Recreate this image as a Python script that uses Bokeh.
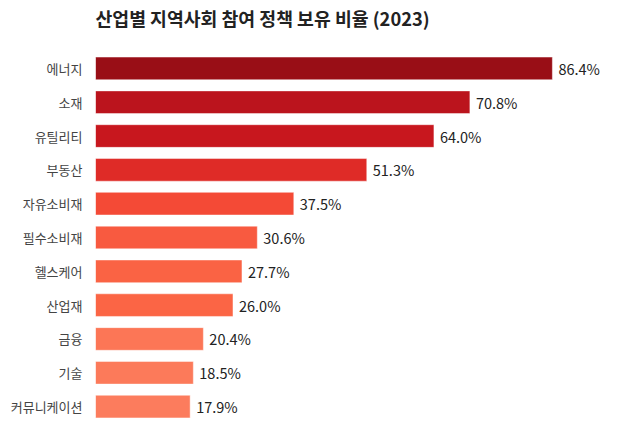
from bokeh.plotting import figure
from bokeh.models import ColumnDataSource, LabelSet, Title
from bokeh.core.properties import value
from bokeh.embed import file_html
from bokeh.resources import INLINE

title_text = "산업별 지역사회 참여 정책 보유 비율 (2023)"
categories = ["에너지", "소재", "유틸리티", "부동산", "자유소비재", "필수소비재",
              "헬스케어", "산업재", "금융", "기술", "커뮤니케이션"]
values = [86.4, 70.8, 64.0, 51.3, 37.5, 30.6, 27.7, 26.0, 20.4, 18.5, 17.9]
colors = ["#990E16", "#BB141D", "#C8171E", "#DF2B27", "#F44A36", "#F85A40",
          "#FA6344", "#FB6545", "#FC7656", "#FC7A5A", "#FC7C5D"]
labels = [f"{v:.1f}%" for v in values]

FONT = "Noto Sans CJK KR"

src = ColumnDataSource(dict(cat=categories, val=values, color=colors, label=labels))

p = figure(y_range=list(reversed(categories)), x_range=(0, 95.5),
           frame_width=505, frame_height=372, output_backend="svg",
           toolbar_location=None, title=None,
           min_border_left=95, min_border_right=12, min_border_top=0,
           min_border_bottom=8)

p.hbar(y="cat", right="val", left=0, height=0.67, fill_color="color",
       line_color="white", line_alpha=0.45, line_width=1, source=src)

p.add_layout(LabelSet(x="val", y="cat", text="label", x_offset=6, source=src,
                      text_baseline="middle", text_font=value(FONT),
                      text_font_size="14.5px", text_color="#222222"))

# spacer between the plot area and the title (nearest the frame)
p.add_layout(Title(text=" ", text_font_size="1px", standoff=15), "above")
# chart title (outermost)
p.add_layout(Title(text=title_text, text_font=FONT, text_font_size="18.3px",
                   text_font_style="bold", text_color="#222222",
                   align="left", standoff=5), "above")

p.xaxis.visible = False
p.xgrid.grid_line_color = None
p.ygrid.grid_line_color = None
p.outline_line_color = None
p.yaxis.axis_line_color = None
p.yaxis.major_tick_line_color = None
p.yaxis.minor_tick_line_color = None
p.yaxis.major_label_standoff = 7
p.yaxis.major_label_text_font = FONT
p.yaxis.major_label_text_font_size = "13px"
p.yaxis.major_label_text_color = "#444444"

open("out.html", "w").write(file_html(p, INLINE))
